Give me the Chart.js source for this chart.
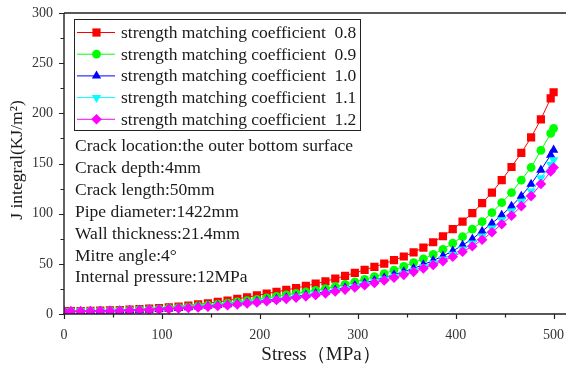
<!DOCTYPE html>
<html>
<head>
<meta charset="utf-8">
<script src="https://cdn.jsdelivr.net/npm/chart.js@4.4.1/dist/chart.umd.min.js"></script>
<style>
  html, body { margin: 0; padding: 0; background: #fff; overflow: hidden; }
  #wrap { width: 579px; height: 367px; }
</style>
</head>
<body>
<div id="wrap"><canvas id="chart"></canvas></div>
<script>
// ── DATA ─────────────────────────────────────
const stress = [0, 7, 17, 27, 37, 47, 57, 67, 77, 87, 97, 107, 117, 127, 137, 147, 157, 167, 177, 187,
  197, 207, 217, 227, 237, 247, 257, 267, 277, 287, 297, 307, 317, 327, 337, 347, 357, 367, 377, 387,
  397, 407, 417, 427, 437, 447, 457, 467, 477, 487, 497, 500];

const j08 = [2.8, 2.8, 2.9, 3.1, 3.3, 3.6, 3.9, 4.3, 4.8, 5.3, 5.9, 6.6, 7.4, 8.4, 9.5, 10.7, 12, 13.4, 15, 16.7,
  18.5, 20.3, 22.1, 24, 25.9, 28, 30.2, 32.6, 35.2, 38, 41, 44, 47, 50.2, 53.6, 57.3, 61.5, 66.2, 71.5, 77.5,
  84.5, 92, 100.5, 110.5, 121, 133.5, 146.5, 160.5, 176, 194, 215, 221];
const j09 = [2.7, 2.7, 2.8, 2.9, 3.1, 3.3, 3.6, 3.9, 4.3, 4.7, 5.2, 5.8, 6.4, 7.2, 8, 8.9, 9.8, 10.9, 12, 13.3,
  14.6, 16, 17.5, 19, 20.5, 22, 23.5, 25.3, 27.3, 29.5, 32, 34.5, 37.2, 40.3, 43.8, 47.5, 51.2, 55, 59.5, 64.5,
  70.5, 77, 84.5, 92, 101, 111, 121, 133.5, 146, 163, 180, 185];
const j10 = [2.6, 2.6, 2.7, 2.8, 3, 3.2, 3.4, 3.7, 4, 4.3, 4.8, 5.3, 5.8, 6.4, 7.1, 7.8, 8.6, 9.4, 10.3, 11.4,
  12.5, 13.7, 15, 16.3, 17.6, 19, 20.5, 22.2, 24.1, 26.2, 28.5, 31, 33.6, 36.3, 39.2, 42.2, 45.5, 49.2, 53.3, 57.8,
  62.8, 68.6, 74.8, 82.5, 90.4, 98.5, 107.5, 117.5, 129.5, 143.5, 158.5, 163.5];
const j11 = [2.6, 2.6, 2.7, 2.8, 2.9, 3.1, 3.3, 3.6, 3.9, 4.2, 4.6, 5.1, 5.6, 6.2, 6.8, 7.5, 8.3, 9.1, 9.9, 10.9,
  12, 13.1, 14.4, 15.6, 16.9, 18.2, 19.7, 21.3, 23.1, 25.1, 27.3, 29.6, 32.1, 34.7, 37.5, 40.4, 43.5, 46.9, 50.6, 54.7,
  59.3, 64.5, 70.5, 77.5, 85.5, 93.7, 102.5, 112, 122.5, 135.5, 149, 153.5];
const j12 = [2.6, 2.6, 2.7, 2.8, 2.9, 3.1, 3.3, 3.5, 3.8, 4.1, 4.5, 5, 5.5, 6, 6.6, 7.3, 8, 8.8, 9.6, 10.6,
  11.6, 12.7, 13.9, 15.1, 16.3, 17.6, 19, 20.6, 22.4, 24.3, 26.4, 28.6, 31, 33.5, 36.2, 39, 42, 45.3, 48.8, 52.7,
  57, 62, 67.5, 74, 81.5, 89.5, 98, 107.5, 117.5, 129.5, 142, 146];

const seriesLabels = [
  'strength matching coefficient  0.8',
  'strength matching coefficient  0.9',
  'strength matching coefficient  1.0',
  'strength matching coefficient  1.1',
  'strength matching coefficient  1.2'
];
const notes = [
  'Crack location:the outer bottom surface',
  'Crack depth:4mm',
  'Crack length:50mm',
  'Pipe diameter:1422mm',
  'Wall thickness:21.4mm',
  'Mitre angle:4°',
  'Internal pressure:12MPa'
];
const xTicks = [0, 100, 200, 300, 400, 500];
const yTicks = [0, 50, 100, 150, 200, 250, 300];

// ── STYLE ─────────────────────────────────────
const SERIF = '"Liberation Serif", "Times New Roman", serif';
const styles = [
  { color: '#ff0000', shape: 'rect', radius: 5.8, rot: 0 },
  { color: '#00ff00', shape: 'circle', radius: 4.4, rot: 0 },
  { color: '#0000ff', shape: 'triangle', radius: 5.4, rot: 0 },
  { color: '#00ffff', shape: 'triangle', radius: 5.4, rot: 180 },
  { color: '#ff00ff', shape: 'rectRot', radius: 5.3, rot: 0 }
];
const allY = [j08, j09, j10, j11, j12];

const datasets = allY.map((ys, i) => ({
  label: seriesLabels[i],
  data: stress.map((x, k) => ({ x, y: ys[k] })),
  borderColor: styles[i].color,
  backgroundColor: styles[i].color,
  borderWidth: 1,
  pointStyle: styles[i].shape,
  pointRadius: styles[i].radius,
  pointRotation: styles[i].rot,
  pointBorderWidth: 0,
  pointBackgroundColor: styles[i].color,
  tension: 0,
  order: 5 - i
}));

function marker(c, st, x, y) {
  c.save();
  c.fillStyle = st.color;
  c.translate(x, y);
  c.rotate(st.rot * Math.PI / 180);
  const r = st.radius;
  c.beginPath();
  if (st.shape === 'rect') {
    const s = r * Math.SQRT1_2;
    c.rect(-s, -s, 2 * s, 2 * s);
  } else if (st.shape === 'circle') {
    c.arc(0, 0, r, 0, Math.PI * 2);
  } else if (st.shape === 'triangle') {
    c.moveTo(0, -r);
    c.lineTo(r * 0.866, r * 0.5);
    c.lineTo(-r * 0.866, r * 0.5);
    c.closePath();
  } else {
    c.moveTo(0, -r); c.lineTo(r, 0); c.lineTo(0, r); c.lineTo(-r, 0); c.closePath();
  }
  c.fill();
  c.restore();
}

const decor = {
  id: 'decor',
  afterDraw(chart) {
    const c = chart.ctx;
    const { left, right, top, bottom } = chart.chartArea;
    const xs = chart.scales.x, ys = chart.scales.y;
    c.save();
    // frame + axes (right side is cut off in the original)
    c.strokeStyle = '#222';
    c.lineWidth = 1.4;
    c.beginPath();
    c.moveTo(left, top); c.lineTo(right + 10, top);
    c.moveTo(left, top); c.lineTo(left, bottom);
    c.moveTo(left - 1, bottom); c.lineTo(right + 10, bottom);
    c.stroke();
    // ticks
    c.lineWidth = 1.2;
    c.beginPath();
    for (let v = 0; v <= 500; v += 50) {
      const px = Math.round(xs.getPixelForValue(v)) + 0.5;
      const len = v % 100 === 0 ? 5 : 3.5;
      c.moveTo(px, bottom); c.lineTo(px, bottom + len);
    }
    for (let v = 0; v <= 300; v += 25) {
      const py = Math.round(ys.getPixelForValue(v)) + 0.5;
      const len = v % 50 === 0 ? 5 : 3.5;
      c.moveTo(left, py); c.lineTo(left - len, py);
    }
    c.stroke();

    // legend box
    c.strokeStyle = '#222';
    c.lineWidth = 1;
    c.strokeRect(74.5, 19.5, 286, 111);
    c.font = '17.5px ' + SERIF;
    c.textBaseline = 'middle';
    c.textAlign = 'left';
    styles.forEach((st, i) => {
      const y = 32.5 + i * 21.7;
      c.strokeStyle = st.color;
      c.lineWidth = 1;
      c.beginPath();
      c.moveTo(77, y); c.lineTo(115, y);
      c.stroke();
      marker(c, st, 96.5, y);
      c.fillStyle = '#1a1a1a';
      c.fillText(seriesLabels[i], 121, y + 1);
    });

    // notes
    c.fillStyle = '#1a1a1a';
    notes.forEach((t, i) => c.fillText(t, 75, 146.5 + i * 21.9));

    // axis titles
    c.textAlign = 'center';
    c.font = '19px ' + SERIF;
    c.fillText('Stress（MPa）', 321, 355);
    c.translate(17, 160);
    c.rotate(-Math.PI / 2);
    c.font = '17.5px ' + SERIF;
    c.fillText('J integral(KJ/m²)', 0, 0);
    c.restore();
  }
};

new Chart(document.getElementById('chart'), {
  type: 'line',
  data: { datasets },
  options: {
    responsive: true, maintainAspectRatio: false,
    animation: false,
    layout: { padding: { top: 13, right: 2, left: 0, bottom: 0 } },
    plugins: { legend: { display: false }, tooltip: { enabled: false } },
    scales: {
      x: {
        type: 'linear', min: 0, max: 520,
        afterFit: s => { s.height = 53; s.paddingLeft = 0; s.paddingRight = 0; },
        afterBuildTicks: s => { s.ticks = xTicks.map(v => ({ value: v })); },
        grid: { display: false, drawTicks: false },
        border: { display: false },
        ticks: { color: '#333', padding: 13, font: { family: SERIF, size: 14 } }
      },
      y: {
        min: 0, max: 300,
        afterFit: s => { s.width = 64; s.paddingTop = 0; s.paddingBottom = 0; },
        afterBuildTicks: s => { s.ticks = yTicks.map(v => ({ value: v })); },
        grid: { display: false, drawTicks: false },
        border: { display: false },
        ticks: { color: '#333', padding: 11, font: { family: SERIF, size: 14 } }
      }
    }
  },
  plugins: [decor]
});
</script>
</body>
</html>
